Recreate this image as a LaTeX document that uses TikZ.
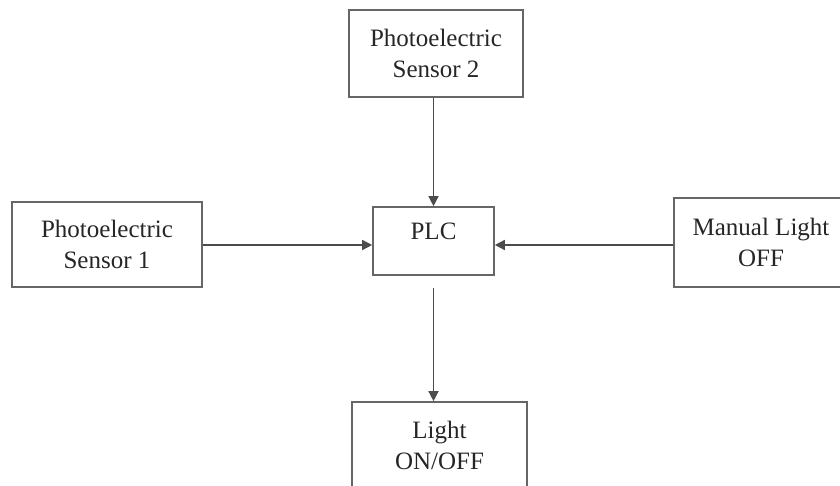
\documentclass[tikz,border=0pt]{standalone}
\usepackage{fontspec}
\setmainfont{Liberation Serif}
\usetikzlibrary{arrows.meta}
\begin{document}
\begin{tikzpicture}[x=1pt, y=1pt, every node/.style={draw=black!60, line width=1.6pt, align=center, inner sep=0pt, font=\fontsize{25}{31}\selectfont, text=black!85}, >={Triangle[length=10pt, width=10pt]}]
\useasboundingbox (0,0) rectangle (840,485);

\node[minimum width=174pt, minimum height=87pt] (s2) at (436,431.5) {Photoelectric\\Sensor 2};
\node[minimum width=190pt, minimum height=85pt] (s1) at (107,240.5) {Photoelectric\\Sensor 1};
\node[minimum width=121pt, minimum height=68pt, text height=17pt, text depth=19pt] (plc) at (433.5,244) {PLC};
\node[minimum width=174pt, minimum height=89pt] (man) at (761,242.5) {Manual Light\\OFF};
\node[minimum width=175pt, minimum height=87pt] (light) at (439.5,39.5) {Light\\ON/OFF};

\draw[->, line width=1.4pt, black!70] (s2.south -| plc.north) -- (plc.north);
\draw[->, line width=1.4pt, black!70] (s1.east |- 0,240) -- (plc.west |- 0,240);
\draw[->, line width=1.4pt, black!70] (man.west |- 0,240) -- (plc.east |- 0,240);
\draw[->, line width=1.4pt, black!70] ([yshift=-12pt]plc.south) -- (plc.south |- light.north);
\end{tikzpicture}
\end{document}
